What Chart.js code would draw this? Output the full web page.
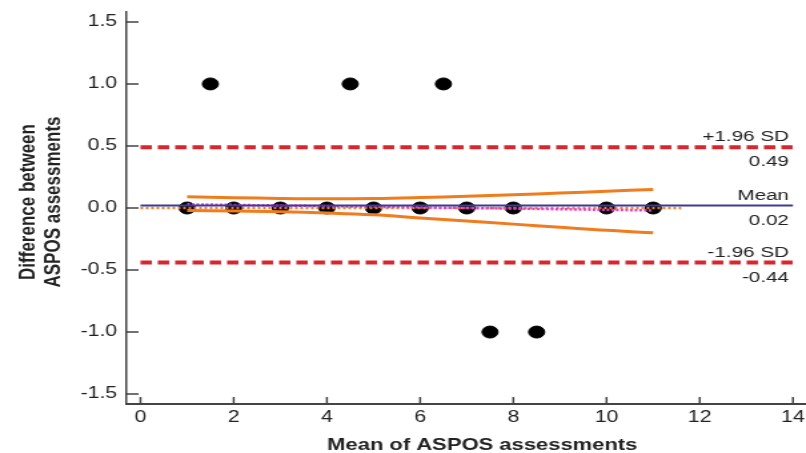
<!DOCTYPE html>
<html>
<head>
<meta charset="utf-8">
<script src="https://cdn.jsdelivr.net/npm/chart.js@4.4.1/dist/chart.umd.min.js"></script>
<style>
html, body { margin: 0; padding: 0; background: #fff; overflow: hidden; }
/* the source figure is stretched sideways, so the canvas is too */
#wrap { width: 605px; height: 453px; transform: scaleX(1.3322); transform-origin: 0 0; }
</style>
</head>
<body>
<div id="wrap"><canvas id="myChart" width="605" height="453"></canvas></div>
<script>
// observations: mean of the two assessments vs their difference
var pointX = [1, 2, 3, 4, 5, 6, 7, 8, 10, 11, 1.5, 4.5, 6.5, 7.5, 8.5];
var pointY = [0, 0, 0, 0, 0, 0, 0, 0, 0, 0, 1, 1, 1, -1, -1];

// limits of agreement
var limitNames = ['+1.96 SD', 'Mean', '-1.96 SD'];
var limitValues = [0.49, 0.02, -0.44];
var limitTexts = ['0.49', '0.02', '-0.44'];
var limitRange = [0, 14];

// regression line and its confidence band
var bandX = [1, 2, 3, 4, 5, 6, 7, 8, 9, 10, 11];
var bandUpper = [0.09, 0.083, 0.077, 0.074, 0.076, 0.084, 0.095, 0.107, 0.12, 0.135, 0.15];
var bandLower = [-0.02, -0.025, -0.03, -0.04, -0.055, -0.08, -0.105, -0.13, -0.155, -0.18, -0.2];
var regrX = [1, 11];
var regrY = [0.03, -0.02];
var zeroX = [0, 11.6];
var zeroY = [0, 0];

var xTicks = [0, 2, 4, 6, 8, 10, 12, 14];
var yTicks = [-1.5, -1.0, -0.5, 0.0, 0.5, 1.0, 1.5];

var FONT = "'Liberation Sans', Arial, sans-serif";

function pairs(xs, ys) {
    return xs.map(function (x, i) { return { x: x, y: ys[i] }; });
}

function hline(v) {
    return [{ x: limitRange[0], y: v }, { x: limitRange[1], y: v }];
}

// keep the plot box fixed: no extra room for overhanging tick labels
function noPadding(s) {
    s.paddingLeft = 0;
    s.paddingRight = 0;
    s.paddingTop = 0;
    s.paddingBottom = 0;
}

var extras = {
    id: 'extras',
    beforeDatasetsDraw: function (chart) {
        var ctx = chart.ctx;
        var xs = chart.scales.x, ys = chart.scales.y;
        var area = chart.chartArea;
        ctx.save();
        ctx.strokeStyle = '#444';
        ctx.lineWidth = 1.5;
        ctx.beginPath();
        yTicks.forEach(function (v) {
            var py = ys.getPixelForValue(v);
            ctx.moveTo(area.left, py);
            ctx.lineTo(area.left + 9, py);
        });
        xTicks.forEach(function (v) {
            var px = xs.getPixelForValue(v);
            ctx.moveTo(px, area.bottom);
            ctx.lineTo(px, area.bottom - 7);
        });
        ctx.stroke();
        ctx.restore();
    },
    afterDraw: function (chart) {
        var ctx = chart.ctx;
        var xs = chart.scales.x, ys = chart.scales.y;
        ctx.save();
        ctx.fillStyle = '#222';

        // labels at the right end of the limit lines
        ctx.font = '15.5px ' + FONT;
        ctx.textAlign = 'right';
        ctx.textBaseline = 'alphabetic';
        var rx = xs.getPixelForValue(limitRange[1]) - 3;
        limitValues.forEach(function (v, i) {
            var py = ys.getPixelForValue(v);
            ctx.fillText(limitNames[i], rx, py - 6);
            ctx.fillText(limitTexts[i], rx, py + 19);
        });

        // axis titles
        ctx.font = 'bold 16.5px ' + FONT;
        ctx.textAlign = 'center';
        ctx.fillText('Mean of ASPOS assessments', 362, 450);

        ctx.font = 'bold 17px ' + FONT;
        ctx.textBaseline = 'middle';
        ctx.translate(0, 202);
        ctx.rotate(-Math.PI / 2);
        ctx.fillText('Difference between', 0, 21);
        ctx.fillText('ASPOS assessments', 0, 40);
        ctx.restore();
    }
};

var ctx = document.getElementById('myChart').getContext('2d');
var myChart = new Chart(ctx, {
    type: 'scatter',
    data: {
        datasets: [
            {
                label: 'Mean',
                data: hline(limitValues[1]),
                showLine: true,
                borderColor: '#3d3b98',
                borderWidth: 2,
                pointRadius: 0,
                order: 1
            },
            {
                label: 'Regression',
                data: pairs(regrX, regrY),
                showLine: true,
                borderColor: '#e23ad6',
                borderWidth: 2.5,
                borderDash: [2, 1.5],
                pointRadius: 0,
                order: 2
            },
            {
                label: 'Zero',
                data: pairs(zeroX, zeroY),
                showLine: true,
                borderColor: '#f07c1e',
                borderWidth: 2.5,
                borderDash: [2, 2],
                pointRadius: 0,
                order: 3
            },
            {
                label: 'Upper band',
                data: pairs(bandX, bandUpper),
                showLine: true,
                borderColor: '#f07c1e',
                borderWidth: 3,
                tension: 0.4,
                pointRadius: 0,
                order: 4
            },
            {
                label: 'Lower band',
                data: pairs(bandX, bandLower),
                showLine: true,
                borderColor: '#f07c1e',
                borderWidth: 3,
                tension: 0.4,
                pointRadius: 0,
                order: 4
            },
            {
                label: '+1.96 SD',
                data: hline(limitValues[0]),
                showLine: true,
                borderColor: '#d8262f',
                borderWidth: 4,
                borderDash: [8.5, 4.5],
                pointRadius: 0,
                order: 5
            },
            {
                label: '-1.96 SD',
                data: hline(limitValues[2]),
                showLine: true,
                borderColor: '#d8262f',
                borderWidth: 4,
                borderDash: [8.5, 4.5],
                pointRadius: 0,
                order: 5
            },
            {
                label: 'Differences',
                data: pairs(pointX, pointY),
                backgroundColor: '#000',
                borderColor: '#000',
                pointRadius: 6,
                pointHoverRadius: 6,
                order: 10
            }
        ]
    },
    options: {
        responsive: false,
        animation: false,
        devicePixelRatio: 1,
        layout: {
            autoPadding: false,
            padding: { top: 12, right: 0, left: 0, bottom: 0 }
        },
        plugins: {
            legend: { display: false },
            tooltip: { enabled: false }
        },
        scales: {
            x: {
                type: 'linear',
                min: -0.299,
                max: 14.279,
                afterBuildTicks: function (s) {
                    s.ticks = xTicks.map(function (v) { return { value: v }; });
                },
                afterFit: function (s) { s.height = 49; noPadding(s); },
                grid: { drawOnChartArea: false, drawTicks: false },
                border: { color: '#444', width: 2 },
                ticks: {
                    padding: 4,
                    color: '#222',
                    font: { family: FONT, size: 16 },
                    maxRotation: 0
                }
            },
            y: {
                type: 'linear',
                min: -1.58,
                max: 1.58,
                afterBuildTicks: function (s) {
                    s.ticks = yTicks.map(function (v) { return { value: v }; });
                },
                afterFit: function (s) { s.width = 95; noPadding(s); },
                grid: { drawOnChartArea: false, drawTicks: false },
                border: { color: '#444', width: 1.5 },
                ticks: {
                    padding: 7,
                    color: '#222',
                    font: { family: FONT, size: 16 },
                    callback: function (v) { return v.toFixed(1); }
                }
            }
        }
    },
    plugins: [extras]
});
</script>
</body>
</html>
